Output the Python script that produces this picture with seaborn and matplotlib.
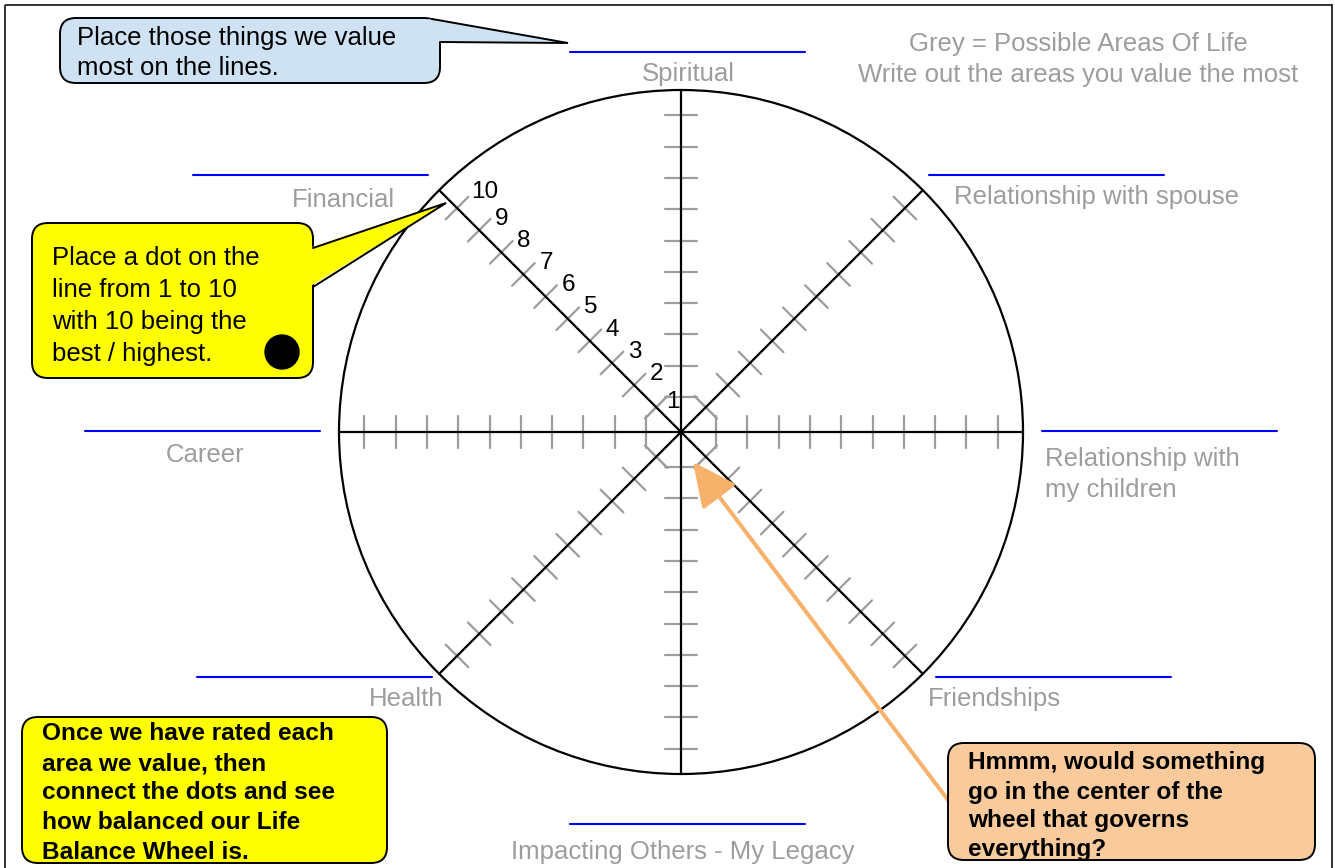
import numpy as np
import pandas as pd
import matplotlib
matplotlib.use("Agg")
import matplotlib.pyplot as plt
from matplotlib.patches import FancyBboxPatch, Circle, Polygon, Rectangle
import seaborn as sns

# life areas around the wheel and the angle of their spoke (degrees, 0 = right)
areas = ["Spiritual", "Relationship with spouse", "Relationship with\nmy children",
         "Friendships", "Impacting Others - My Legacy", "Health", "Career", "Financial"]
angles = [90, 45, 0, -45, -90, -135, 180, 135]
ratings = list(range(1, 11))  # 1..10 scale on each spoke

note_lines = ["Grey = Possible Areas Of Life", "Write out the areas you value the most"]
callout_top = ["Place those things we value", "most on the lines."]
callout_dot = ["Place a dot on the", "line from 1 to 10", "with 10 being the", "best / highest."]
callout_connect = ["Once we have rated each", "area we value, then", "connect the dots and see",
                   "how balanced our Life", "Balance Wheel is."]
callout_center = ["Hmmm, would something", "go in the center of the",
                  "wheel that governs", "everything?"]

# layout (pixel coords, y down)
CX, CY, R = 681, 432, 342
R0, DR = 35, 31.3
line_pos = {  # blue write-in line x0, x1, y ; label x, baseline, ha
    "Spiritual": (570, 805, 52, 688, 81, "center"),
    "Relationship with spouse": (929, 1164, 175, 1097, 204, "center"),
    "Relationship with\nmy children": (1042, 1277, 431, 1045, 466, "left"),
    "Friendships": (936, 1171, 677, 994, 706, "center"),
    "Impacting Others - My Legacy": (570, 805, 824, 683, 859, "center"),
    "Health": (197, 432, 677, 406, 706, "center"),
    "Career": (85, 320, 431, 205, 462, "center"),
    "Financial": (193, 428, 175, 343, 207, "center"),
}

sns.set_theme(style="white")
plt.rcParams["font.family"] = ["Liberation Sans", "DejaVu Sans"]

fig = plt.figure(figsize=(13.35, 8.68), dpi=100)
ax = fig.add_axes([0, 0, 1, 1])

GREY = "#9d9d9d"
FS = 18.5
FSB = 17.6

ax.add_patch(Rectangle((5, 5), 1327, 900, fill=False, lw=1.3, ec="#222222", zorder=1))

# wheel
ax.add_patch(Circle((CX, CY), R, fill=False, lw=1.6, ec="black", zorder=3))

th = np.deg2rad(angles)
spokes = pd.DataFrame({
    "area": np.repeat(areas, 2),
    "x": np.ravel([[CX, CX + R * np.cos(t)] for t in th]),
    "y": np.ravel([[CY, CY - R * np.sin(t)] for t in th]),
})

# rating ticks across each spoke
rows = []
for a, t in zip(areas, th):
    ux, uy = np.cos(t), -np.sin(t)
    px, py = -uy, ux
    for k in ratings:
        r = R0 + DR * (k - 1)
        for s in (-16, 16):
            rows.append((f"{a}-{k}", CX + r * ux + s * px, CY + r * uy + s * py))
ticks = pd.DataFrame(rows, columns=["tick", "x", "y"])

sns.lineplot(data=ticks, x="x", y="y", units="tick", estimator=None, sort=False,
             color=GREY, lw=1.6, ax=ax, legend=False, zorder=4)
sns.lineplot(data=spokes, x="x", y="y", units="area", estimator=None, sort=False,
             color="black", lw=1.6, ax=ax, legend=False, zorder=5)
ax.set_xlim(0, 1335)
ax.set_ylim(868, 0)
ax.axis("off")

# grey octagon in the hub
oa = np.deg2rad(np.arange(22.5, 382.5, 45))
ro = R0 / np.cos(np.deg2rad(22.5))
ax.plot(CX + ro * np.cos(oa), CY + ro * np.sin(oa), color=GREY, lw=1.4, zorder=4)

# numbers on the Financial spoke
t = np.deg2rad(135)
ux, uy = np.cos(t), -np.sin(t)
px, py = 0.7071, -0.7071
for k in ratings:
    r = R0 + DR * (k - 1) - 8
    off = 24 if k < 10 else 31
    if k == 1:
        off = 16
    ax.text(CX + r * ux + off * px, CY + r * uy + off * py, str(k),
            fontsize=17.5, ha="center", va="center", color="black", zorder=6)

# write-in lines and grey area names
for a in areas:
    x0, x1, y, tx, ty, ha = line_pos[a]
    ax.plot([x0, x1], [y, y], color="#0000ff", lw=1.5, zorder=3)
    for i, s in enumerate(a.split("\n")):
        ax.text(tx, ty + 31 * i, s, fontsize=FS, color=GREY, ha=ha, va="baseline")

for i, s in enumerate(note_lines):
    ax.text(1078, 51 + 31 * i, s, fontsize=FS, color=GREY, ha="center", va="baseline")


def box(x0, y0, x1, y1, fc):
    ax.add_patch(FancyBboxPatch((x0, y0), x1 - x0, y1 - y0,
                                boxstyle="round,pad=0,rounding_size=16",
                                fc=fc, ec="black", lw=1.4, zorder=7))


def tail(base_top, base_bot, tip, fc):
    ax.add_patch(Polygon([(base_top[0] - 4, base_top[1]), tip, (base_bot[0] - 4, base_bot[1])],
                         closed=True, fc=fc, ec="none", zorder=8))
    ax.plot([base_top[0], tip[0], base_bot[0]], [base_top[1], tip[1], base_bot[1]],
            color="black", lw=1.4, zorder=8, solid_joinstyle="miter")


def lines(x, ys, texts, bold=False):
    for y, s in zip(ys, texts):
        ax.text(x, y, s, fontsize=FSB if bold else FS, color="black",
                fontweight="bold" if bold else "normal", ha="left", va="baseline", zorder=9)


# top callout
box(60, 18, 440, 83, "#cfe2f3")
tail((432, 19), (440, 42), (568, 43), "#cfe2f3")
lines(77, [45, 75], callout_top)

# dot callout
box(32, 223, 313, 378, "#ffff00")
tail((313, 248), (313, 287), (446, 203), "#ffff00")
lines(52, [265, 297, 329, 361], callout_dot)
ax.add_patch(Circle((282, 352), 17, fc="black", ec="black", zorder=9))

# connect callout
box(22, 717, 387, 863, "#ffff00")
lines(42, [740, 770, 799, 829, 859], callout_connect, bold=True)

# centre callout and arrow
box(948, 743, 1315, 860, "#f9cb9c")
lines(968, [769, 799, 827, 856], callout_center, bold=True)
ax.annotate("", xy=(693, 462), xytext=(948, 800),
            arrowprops=dict(arrowstyle="-|>,head_length=1.35,head_width=0.65", lw=2.9,
                            color="#f6b26b", mutation_scale=20, shrinkA=0, shrinkB=0),
            zorder=6)

fig.savefig("out.png", dpi=100)
